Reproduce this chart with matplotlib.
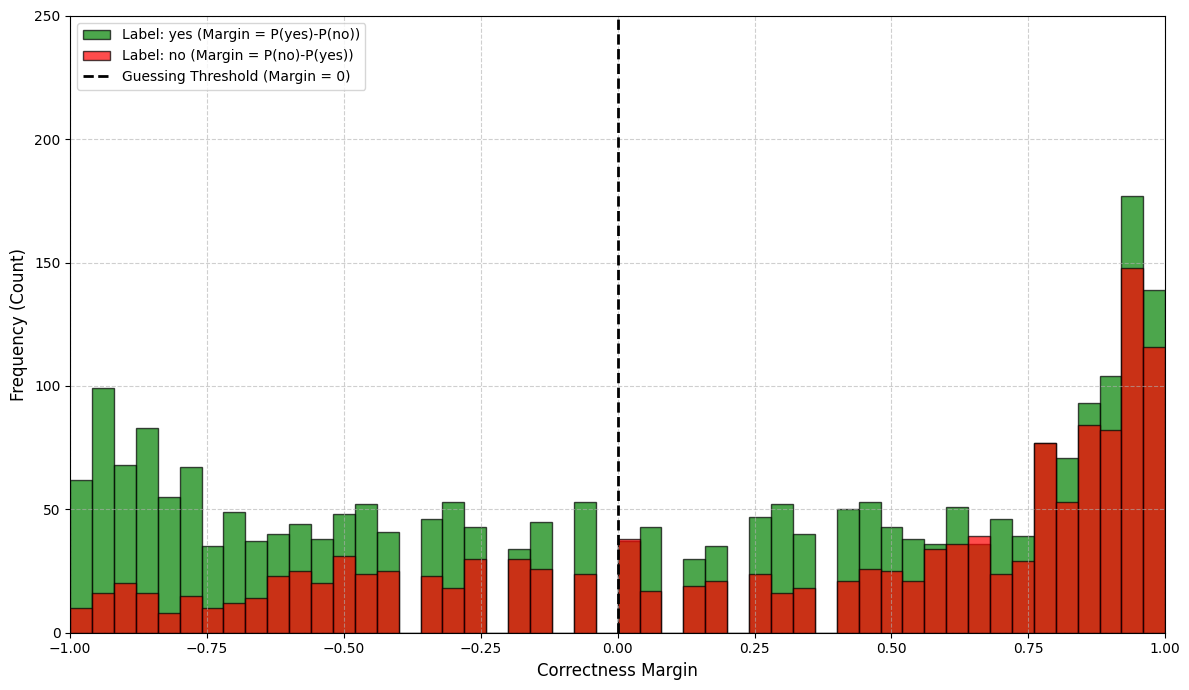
import numpy as np
import matplotlib
matplotlib.use("Agg")
import matplotlib.pyplot as plt

# 50 bins of width 0.04 between -1 and 1
bin_edges = np.linspace(-1, 1, 51)
bin_centers = (bin_edges[:-1] + bin_edges[1:]) / 2

yes_counts = [62, 99, 68, 83, 55, 67, 35, 49, 37, 40,
              44, 38, 48, 52, 41, 0, 46, 53, 43, 0,
              34, 45, 0, 53, 0, 37, 43, 0, 30, 35,
              0, 47, 52, 40, 0, 50, 53, 43, 38, 36,
              51, 36, 46, 39, 77, 71, 93, 104, 177, 139]
no_counts = [10, 16, 20, 16, 8, 15, 10, 12, 14, 23,
             25, 20, 31, 24, 25, 0, 23, 18, 30, 0,
             30, 26, 0, 24, 0, 38, 17, 0, 19, 21,
             0, 24, 16, 18, 0, 21, 26, 25, 21, 34,
             36, 39, 24, 29, 77, 53, 84, 82, 148, 116]

fig = plt.figure(figsize=(11.89, 6.9), dpi=100)
ax = fig.add_subplot(1, 1, 1)
ax.hist(bin_centers, bins=bin_edges, weights=yes_counts, color='green', alpha=0.7,
        edgecolor='black', label='Label: yes (Margin = P(yes)-P(no))')
ax.hist(bin_centers, bins=bin_edges, weights=no_counts, color='red', alpha=0.7,
        edgecolor='black', label='Label: no (Margin = P(no)-P(yes))')
ax.axvline(0, color='black', linestyle='--', linewidth=2, label='Guessing Threshold (Margin = 0)')
ax.set_xlim(-1, 1)
ax.set_ylim(0, 250)
ax.set_xlabel("Correctness Margin", fontsize=12)
ax.set_ylabel("Frequency (Count)", fontsize=12)
ax.grid(True, linestyle='--', alpha=0.6)
ax.legend(loc='upper left')
fig.subplots_adjust(left=0.059, right=0.98, top=0.977, bottom=0.083)
fig.savefig("out.png", dpi=100)
